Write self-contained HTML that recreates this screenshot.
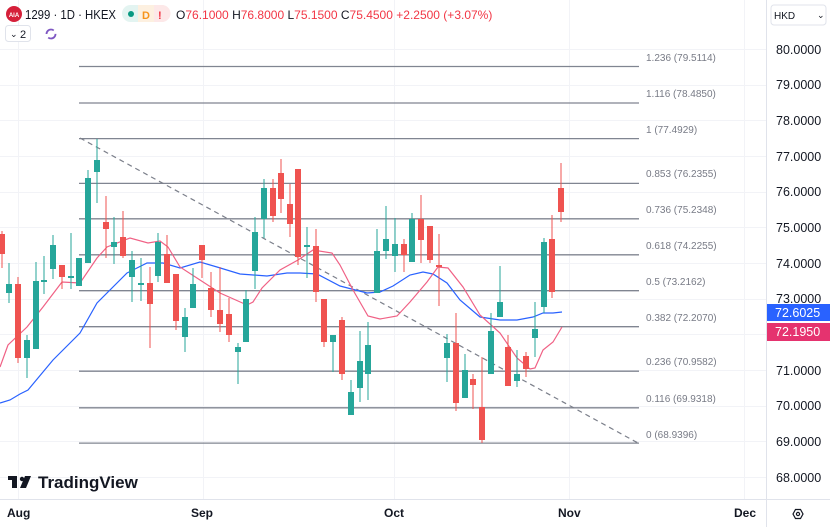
<!DOCTYPE html>
<html><head><meta charset="utf-8"><style>
body{margin:0;width:830px;height:527px;overflow:hidden;background:#fff;font-family:"Liberation Sans",sans-serif}
svg{position:absolute;left:0;top:0}
</style></head><body>
<svg width="830" height="527" viewBox="0 0 830 527" xmlns="http://www.w3.org/2000/svg" font-family="Liberation Sans, sans-serif">
<g stroke="#f2f3f7" stroke-width="1">
<line x1="18.5" y1="0" x2="18.5" y2="499"/><line x1="203.5" y1="0" x2="203.5" y2="499"/><line x1="394.5" y1="0" x2="394.5" y2="499"/><line x1="569.5" y1="0" x2="569.5" y2="499"/><line x1="744.5" y1="0" x2="744.5" y2="499"/>
<line x1="0" y1="49.5" x2="766" y2="49.5"/><line x1="0" y1="85.5" x2="766" y2="85.5"/><line x1="0" y1="120.5" x2="766" y2="120.5"/><line x1="0" y1="156.5" x2="766" y2="156.5"/><line x1="0" y1="192.5" x2="766" y2="192.5"/><line x1="0" y1="227.5" x2="766" y2="227.5"/><line x1="0" y1="263.5" x2="766" y2="263.5"/><line x1="0" y1="299.5" x2="766" y2="299.5"/><line x1="0" y1="334.5" x2="766" y2="334.5"/><line x1="0" y1="370.5" x2="766" y2="370.5"/><line x1="0" y1="406.5" x2="766" y2="406.5"/><line x1="0" y1="441.5" x2="766" y2="441.5"/><line x1="0" y1="477.5" x2="766" y2="477.5"/>
</g>
<g stroke="#808591" stroke-width="1.3">
<line x1="79" y1="66.5" x2="639" y2="66.5"/><line x1="79" y1="103" x2="639" y2="103"/><line x1="79" y1="138.6" x2="639" y2="138.6"/><line x1="79" y1="183.4" x2="639" y2="183.4"/><line x1="79" y1="218.8" x2="639" y2="218.8"/><line x1="79" y1="254.8" x2="639" y2="254.8"/><line x1="79" y1="290.7" x2="639" y2="290.7"/><line x1="79" y1="326.7" x2="639" y2="326.7"/><line x1="79" y1="371.2" x2="639" y2="371.2"/><line x1="79" y1="407.8" x2="639" y2="407.8"/><line x1="79" y1="443.1" x2="639" y2="443.1"/>
</g>
<line x1="80" y1="138" x2="638" y2="443" stroke="#7b7f8a" stroke-width="1.2" stroke-dasharray="5,4"/>
<g font-size="10" fill="#787b86">
<text x="646" y="61">1.236 (79.5114)</text><text x="646" y="97">1.116 (78.4850)</text><text x="646" y="133">1 (77.4929)</text><text x="646" y="177">0.853 (76.2355)</text><text x="646" y="213">0.736 (75.2348)</text><text x="646" y="249">0.618 (74.2255)</text><text x="646" y="285">0.5 (73.2162)</text><text x="646" y="321">0.382 (72.2070)</text><text x="646" y="365">0.236 (70.9582)</text><text x="646" y="402">0.116 (69.9318)</text><text x="646" y="438">0 (68.9396)</text>
</g>
<polyline fill="none" stroke="#2962ff" stroke-width="1.2" points="0,403 10,400 20,394 28,390 53,360 80,333 97,303 127,273 147,263 163,263 180,268 200,262 217,267 240,274 267,276 287,273 300,273 317,274 340,286 367,293 380,292 393,286 410,275 423,272 433,274 447,283 460,300 480,317 500,320 517,320 533,317 543,313 553,313 562,312"/>
<polyline fill="none" stroke="#f06185" stroke-width="1.2" points="0,367 8,345 27,327 43,307 62,282 80,283 97,258 107,247 130,238 148,243 160,241 168,247 180,267 200,280 220,293 247,305 253,302 262,288 280,270 298,260 313,250 332,253 340,265 353,290 368,316 380,319 397,316 410,302 427,282 438,267 448,268 463,287 480,315 500,333 517,358 530,369 535,368 543,350 553,342 562,327"/>
<g stroke-width="1">
<g stroke="#ef5350" fill="#ef5350"><line x1="2" y1="231" x2="2" y2="268"/><rect x="-1" y="234" width="6" height="20" stroke="none"/></g>
<g stroke="#26a69a" fill="#26a69a"><line x1="9" y1="263" x2="9" y2="303"/><rect x="6" y="284" width="6" height="9" stroke="none"/></g>
<g stroke="#ef5350" fill="#ef5350"><line x1="18" y1="277" x2="18" y2="363"/><rect x="15" y="284" width="6" height="74" stroke="none"/></g>
<g stroke="#26a69a" fill="#26a69a"><line x1="27" y1="335" x2="27" y2="378"/><rect x="24" y="340" width="6" height="18" stroke="none"/></g>
<g stroke="#26a69a" fill="#26a69a"><line x1="36" y1="262" x2="36" y2="349"/><rect x="33" y="281" width="6" height="68" stroke="none"/></g>
<g stroke="#26a69a" fill="#26a69a"><line x1="44" y1="256" x2="44" y2="294"/><rect x="41" y="280" width="6" height="2" stroke="none"/></g>
<g stroke="#26a69a" fill="#26a69a"><line x1="53" y1="235" x2="53" y2="279"/><rect x="50" y="245" width="6" height="24" stroke="none"/></g>
<g stroke="#ef5350" fill="#ef5350"><line x1="62" y1="265" x2="62" y2="289"/><rect x="59" y="265" width="6" height="12" stroke="none"/></g>
<g stroke="#26a69a" fill="#26a69a"><line x1="71" y1="233" x2="71" y2="289"/><rect x="68" y="276" width="6" height="2" stroke="none"/></g>
<g stroke="#26a69a" fill="#26a69a"><line x1="79" y1="258" x2="79" y2="286"/><rect x="76" y="258" width="6" height="28" stroke="none"/></g>
<g stroke="#26a69a" fill="#26a69a"><line x1="88" y1="170" x2="88" y2="263"/><rect x="85" y="178" width="6" height="85" stroke="none"/></g>
<g stroke="#26a69a" fill="#26a69a"><line x1="97" y1="139" x2="97" y2="203"/><rect x="94" y="160" width="6" height="12" stroke="none"/></g>
<g stroke="#ef5350" fill="#ef5350"><line x1="106" y1="196" x2="106" y2="258"/><rect x="103" y="222" width="6" height="7" stroke="none"/></g>
<g stroke="#26a69a" fill="#26a69a"><line x1="114" y1="217" x2="114" y2="264"/><rect x="111" y="242" width="6" height="5" stroke="none"/></g>
<g stroke="#ef5350" fill="#ef5350"><line x1="123" y1="211" x2="123" y2="258"/><rect x="120" y="237" width="6" height="19" stroke="none"/></g>
<g stroke="#26a69a" fill="#26a69a"><line x1="132" y1="251" x2="132" y2="302"/><rect x="129" y="260" width="6" height="17" stroke="none"/></g>
<g stroke="#26a69a" fill="#26a69a"><line x1="141" y1="258" x2="141" y2="301"/><rect x="138" y="283" width="6" height="2" stroke="none"/></g>
<g stroke="#ef5350" fill="#ef5350"><line x1="150" y1="267" x2="150" y2="348"/><rect x="147" y="283" width="6" height="21" stroke="none"/></g>
<g stroke="#26a69a" fill="#26a69a"><line x1="158" y1="233" x2="158" y2="282"/><rect x="155" y="242" width="6" height="34" stroke="none"/></g>
<g stroke="#ef5350" fill="#ef5350"><line x1="167" y1="235" x2="167" y2="283"/><rect x="164" y="254" width="6" height="29" stroke="none"/></g>
<g stroke="#ef5350" fill="#ef5350"><line x1="176" y1="274" x2="176" y2="330"/><rect x="173" y="274" width="6" height="47" stroke="none"/></g>
<g stroke="#26a69a" fill="#26a69a"><line x1="185" y1="308" x2="185" y2="352"/><rect x="182" y="317" width="6" height="20" stroke="none"/></g>
<g stroke="#26a69a" fill="#26a69a"><line x1="193" y1="268" x2="193" y2="308"/><rect x="190" y="284" width="6" height="24" stroke="none"/></g>
<g stroke="#ef5350" fill="#ef5350"><line x1="202" y1="245" x2="202" y2="278"/><rect x="199" y="245" width="6" height="15" stroke="none"/></g>
<g stroke="#ef5350" fill="#ef5350"><line x1="211" y1="272" x2="211" y2="317"/><rect x="208" y="288" width="6" height="22" stroke="none"/></g>
<g stroke="#ef5350" fill="#ef5350"><line x1="220" y1="267" x2="220" y2="332"/><rect x="217" y="310" width="6" height="14" stroke="none"/></g>
<g stroke="#ef5350" fill="#ef5350"><line x1="229" y1="298" x2="229" y2="342"/><rect x="226" y="314" width="6" height="21" stroke="none"/></g>
<g stroke="#26a69a" fill="#26a69a"><line x1="238" y1="343" x2="238" y2="384"/><rect x="235" y="347" width="6" height="5" stroke="none"/></g>
<g stroke="#26a69a" fill="#26a69a"><line x1="246" y1="290" x2="246" y2="342"/><rect x="243" y="299" width="6" height="43" stroke="none"/></g>
<g stroke="#26a69a" fill="#26a69a"><line x1="255" y1="217" x2="255" y2="289"/><rect x="252" y="232" width="6" height="39" stroke="none"/></g>
<g stroke="#26a69a" fill="#26a69a"><line x1="264" y1="179" x2="264" y2="238"/><rect x="261" y="188" width="6" height="31" stroke="none"/></g>
<g stroke="#ef5350" fill="#ef5350"><line x1="273" y1="179" x2="273" y2="222"/><rect x="270" y="188" width="6" height="28" stroke="none"/></g>
<g stroke="#ef5350" fill="#ef5350"><line x1="281" y1="159" x2="281" y2="213"/><rect x="278" y="173" width="6" height="26" stroke="none"/></g>
<g stroke="#ef5350" fill="#ef5350"><line x1="290" y1="184" x2="290" y2="237"/><rect x="287" y="204" width="6" height="20" stroke="none"/></g>
<g stroke="#ef5350" fill="#ef5350"><line x1="298" y1="169" x2="298" y2="265"/><rect x="295" y="169" width="6" height="88" stroke="none"/></g>
<g stroke="#26a69a" fill="#26a69a"><line x1="307" y1="227" x2="307" y2="278"/><rect x="304" y="245" width="6" height="2" stroke="none"/></g>
<g stroke="#ef5350" fill="#ef5350"><line x1="316" y1="229" x2="316" y2="302"/><rect x="313" y="246" width="6" height="46" stroke="none"/></g>
<g stroke="#ef5350" fill="#ef5350"><line x1="324" y1="299" x2="324" y2="347"/><rect x="321" y="299" width="6" height="43" stroke="none"/></g>
<g stroke="#26a69a" fill="#26a69a"><line x1="333" y1="335" x2="333" y2="372"/><rect x="330" y="335" width="6" height="7" stroke="none"/></g>
<g stroke="#ef5350" fill="#ef5350"><line x1="342" y1="317" x2="342" y2="380"/><rect x="339" y="320" width="6" height="54" stroke="none"/></g>
<g stroke="#26a69a" fill="#26a69a"><line x1="351" y1="380" x2="351" y2="415"/><rect x="348" y="392" width="6" height="23" stroke="none"/></g>
<g stroke="#26a69a" fill="#26a69a"><line x1="360" y1="331" x2="360" y2="402"/><rect x="357" y="361" width="6" height="27" stroke="none"/></g>
<g stroke="#26a69a" fill="#26a69a"><line x1="368" y1="322" x2="368" y2="400"/><rect x="365" y="345" width="6" height="29" stroke="none"/></g>
<g stroke="#26a69a" fill="#26a69a"><line x1="377" y1="229" x2="377" y2="293"/><rect x="374" y="251" width="6" height="42" stroke="none"/></g>
<g stroke="#26a69a" fill="#26a69a"><line x1="386" y1="206" x2="386" y2="259"/><rect x="383" y="239" width="6" height="12" stroke="none"/></g>
<g stroke="#26a69a" fill="#26a69a"><line x1="395" y1="218" x2="395" y2="272"/><rect x="392" y="244" width="6" height="12" stroke="none"/></g>
<g stroke="#ef5350" fill="#ef5350"><line x1="404" y1="239" x2="404" y2="272"/><rect x="401" y="244" width="6" height="11" stroke="none"/></g>
<g stroke="#26a69a" fill="#26a69a"><line x1="412" y1="213" x2="412" y2="262"/><rect x="409" y="219" width="6" height="43" stroke="none"/></g>
<g stroke="#ef5350" fill="#ef5350"><line x1="421" y1="195" x2="421" y2="263"/><rect x="418" y="219" width="6" height="21" stroke="none"/></g>
<g stroke="#ef5350" fill="#ef5350"><line x1="430" y1="226" x2="430" y2="263"/><rect x="427" y="226" width="6" height="34" stroke="none"/></g>
<g stroke="#ef5350" fill="#ef5350"><line x1="439" y1="234" x2="439" y2="306"/><rect x="436" y="265" width="6" height="2" stroke="none"/></g>
<g stroke="#26a69a" fill="#26a69a"><line x1="447" y1="334" x2="447" y2="382"/><rect x="444" y="343" width="6" height="15" stroke="none"/></g>
<g stroke="#ef5350" fill="#ef5350"><line x1="456" y1="313" x2="456" y2="411"/><rect x="453" y="343" width="6" height="60" stroke="none"/></g>
<g stroke="#26a69a" fill="#26a69a"><line x1="465" y1="354" x2="465" y2="398"/><rect x="462" y="370" width="6" height="28" stroke="none"/></g>
<g stroke="#ef5350" fill="#ef5350"><line x1="473" y1="374" x2="473" y2="409"/><rect x="470" y="379" width="6" height="6" stroke="none"/></g>
<g stroke="#ef5350" fill="#ef5350"><line x1="482" y1="357" x2="482" y2="443"/><rect x="479" y="407" width="6" height="33" stroke="none"/></g>
<g stroke="#26a69a" fill="#26a69a"><line x1="491" y1="313" x2="491" y2="374"/><rect x="488" y="331" width="6" height="43" stroke="none"/></g>
<g stroke="#26a69a" fill="#26a69a"><line x1="500" y1="266" x2="500" y2="317"/><rect x="497" y="302" width="6" height="15" stroke="none"/></g>
<g stroke="#ef5350" fill="#ef5350"><line x1="508" y1="335" x2="508" y2="386"/><rect x="505" y="347" width="6" height="39" stroke="none"/></g>
<g stroke="#26a69a" fill="#26a69a"><line x1="517" y1="350" x2="517" y2="387"/><rect x="514" y="374" width="6" height="7" stroke="none"/></g>
<g stroke="#ef5350" fill="#ef5350"><line x1="526" y1="352" x2="526" y2="377"/><rect x="523" y="356" width="6" height="13" stroke="none"/></g>
<g stroke="#26a69a" fill="#26a69a"><line x1="535" y1="302" x2="535" y2="357"/><rect x="532" y="329" width="6" height="9" stroke="none"/></g>
<g stroke="#26a69a" fill="#26a69a"><line x1="544" y1="238" x2="544" y2="313"/><rect x="541" y="242" width="6" height="65" stroke="none"/></g>
<g stroke="#ef5350" fill="#ef5350"><line x1="552" y1="215" x2="552" y2="298"/><rect x="549" y="239" width="6" height="53" stroke="none"/></g>
<g stroke="#ef5350" fill="#ef5350"><line x1="561" y1="163" x2="561" y2="222"/><rect x="558" y="188" width="6" height="24" stroke="none"/></g>
</g>
<line x1="766.5" y1="0" x2="766.5" y2="527" stroke="#e0e3eb"/>
<line x1="0" y1="499.5" x2="830" y2="499.5" stroke="#e0e3eb"/>
<g font-size="12.5" fill="#131722">
<text x="776" y="54">80.0000</text><text x="776" y="89">79.0000</text><text x="776" y="125">78.0000</text><text x="776" y="161">77.0000</text><text x="776" y="196">76.0000</text><text x="776" y="232">75.0000</text><text x="776" y="268">74.0000</text><text x="776" y="303">73.0000</text><text x="776" y="375">71.0000</text><text x="776" y="410">70.0000</text><text x="776" y="446">69.0000</text><text x="776" y="482">68.0000</text>
</g>
<rect x="767" y="304" width="63" height="17" fill="#2962ff"/>
<text x="775" y="317" font-size="12.5" fill="#fff">72.6025</text>
<rect x="767" y="323" width="63" height="18" fill="#e5336f"/>
<text x="775" y="336" font-size="12.5" fill="#fff">72.1950</text>
<rect x="771" y="5" width="55" height="20" rx="3" fill="#fff" stroke="#e0e3eb"/>
<text x="774" y="19" font-size="10" fill="#131722">HKD</text>
<text x="817" y="18" font-size="9" fill="#131722">⌄</text>
<g font-size="12" font-weight="bold" fill="#131722">
<text x="7" y="517">Aug</text><text x="191" y="517">Sep</text><text x="384" y="517">Oct</text><text x="558" y="517">Nov</text><text x="734" y="517">Dec</text>
</g>
<g transform="translate(798,514)" fill="none" stroke="#131722" stroke-width="1.2"><polygon points="-5,0 -2.5,-4.5 2.5,-4.5 5,0 2.5,4.5 -2.5,4.5"/><circle r="1.6"/></g>
<g fill="#131722"><rect x="8" y="476" width="9" height="4"/><rect x="12" y="476" width="5" height="12"/><circle cx="22" cy="479" r="2.2"/><polygon points="25,476 31,476 26,488 20,488"/></g>
<text x="38" y="488" font-size="17" font-weight="bold" fill="#131722">TradingView</text>
<circle cx="14" cy="14" r="8" fill="#d5203a"/><text x="14" y="17" font-size="6" fill="#fff" text-anchor="middle" font-weight="bold">AIA</text>
<text x="25" y="19" font-size="13" fill="#131722" textLength="91" lengthAdjust="spacingAndGlyphs">1299 · 1D · HKEX</text>
<rect x="122" y="5" width="48" height="17" rx="8.5" fill="#e3f4f1"/>
<rect x="138" y="5" width="16" height="17" fill="#fdf0e0"/>
<path d="M154,5 h8 a8.5,8.5 0 0 1 0,17 h-8 z" fill="#fde8e8"/>
<circle cx="131" cy="14" r="3" fill="#089981"/>
<text x="142" y="19" font-size="11" font-weight="bold" fill="#f7931a">D</text>
<text x="158" y="19" font-size="11" font-weight="bold" fill="#f23645">!</text>
<g font-size="12" fill="#131722"><text x="176" y="19">O<tspan fill="#f23645">76.1000</tspan> H<tspan fill="#f23645">76.8000</tspan> L<tspan fill="#f23645">75.1500</tspan> C<tspan fill="#f23645">75.4500</tspan> <tspan fill="#f23645">+2.2500 (+3.07%)</tspan></text></g>
<rect x="5.5" y="25.5" width="25" height="16" rx="3" fill="#fff" stroke="#e0e3eb"/>
<text x="10" y="37" font-size="9" fill="#131722">⌄</text><text x="20" y="38" font-size="11" fill="#131722">2</text>
<g transform="translate(51,34)" fill="none" stroke="#7e57c2" stroke-width="1.8"><circle r="4.5" stroke-dasharray="10,4"/></g>
</svg>
</body></html>
